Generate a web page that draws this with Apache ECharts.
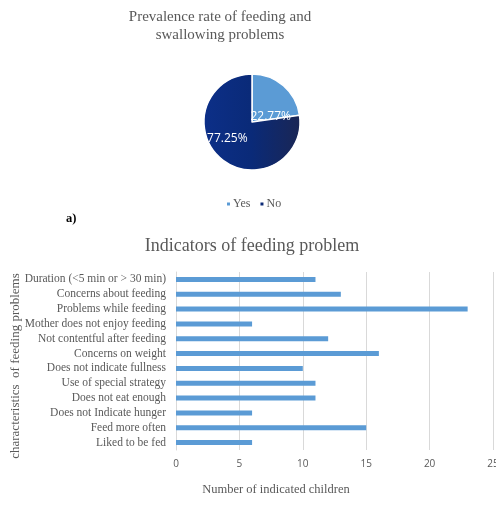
<!DOCTYPE html>
<html>
<head>
<meta charset="utf-8">
<script src="https://cdn.jsdelivr.net/npm/echarts@6/dist/echarts.min.js"></script>
<style>
  html, body { margin: 0; padding: 0; background: #fff; }
  #chart { width: 496px; height: 510px; }
</style>
</head>
<body>
<div id="chart"></div>
<script>
// Prevalence (pie)
const prevalenceNames = ['Yes', 'No'];
const prevalenceValues = [22.77, 77.25];

// Indicators of feeding problem (bar)
const indicatorCategories = [
  'Duration (<5 min or > 30 min)',
  'Concerns about feeding',
  'Problems while feeding',
  'Mother does not enjoy feeding',
  'Not contentful after feeding',
  'Concerns on weight',
  'Does not indicate fullness',
  'Use of special strategy',
  'Does not eat enough',
  'Does not Indicate hunger',
  'Feed more often',
  'Liked to be fed'
];
const indicatorCounts = [11, 13, 23, 6, 12, 16, 10, 11, 11, 6, 15, 6];
const countTicks = [0, 5, 10, 15, 20, 25];

const serif = '"Liberation Serif", "DejaVu Serif", serif';
const grey = '#595959';

const chart = echarts.init(document.getElementById('chart'), null, { renderer: 'canvas' });

chart.setOption({
  animation: false,
  backgroundColor: '#ffffff',
  legend: {
    data: prevalenceNames,
    left: 220, top: 193,
    itemWidth: 5, itemHeight: 5, itemGap: 8,
    icon: 'rect',
    textStyle: { fontFamily: serif, fontSize: 12, color: grey, padding: [0, 0, 0, -3] }
  },
  graphic: [
    {
      type: 'text', x: 220, y: 17,
      style: {
        text: 'Prevalence rate of feeding and',
        font: '15px ' + serif, fill: grey,
        textAlign: 'center', textVerticalAlign: 'middle'
      }
    },
    {
      type: 'text', x: 220, y: 35,
      style: {
        text: 'swallowing problems',
        font: '15px ' + serif, fill: grey,
        textAlign: 'center', textVerticalAlign: 'middle'
      }
    },
    {
      type: 'text', x: 252, y: 246,
      style: {
        text: 'Indicators of feeding problem',
        font: '18px ' + serif, fill: grey,
        textAlign: 'center', textVerticalAlign: 'middle'
      }
    },
    {
      type: 'text', x: 66, y: 219,
      style: { text: 'a)', font: 'bold 12.5px ' + serif, fill: '#000', textVerticalAlign: 'middle' }
    },
    {
      type: 'text', x: 16, y: 366, rotation: Math.PI / 2,
      style: {
        text: 'characteristics  of feeding problems',
        font: '13px ' + serif, fill: grey,
        textAlign: 'center', textVerticalAlign: 'middle'
      }
    },
    {
      type: 'text', x: 276, y: 490,
      style: {
        text: 'Number of indicated children',
        font: '12.5px ' + serif, fill: grey,
        textAlign: 'center', textVerticalAlign: 'middle'
      }
    }
  ],
  grid: { left: 176, right: 3, top: 272, bottom: 60, containLabel: false, outerBoundsMode: 'none' },
  xAxis: {
    type: 'value',
    min: countTicks[0], max: countTicks[countTicks.length - 1], interval: 5,
    axisLine: { show: false },
    axisTick: { show: false },
    splitLine: { lineStyle: { color: '#d9d9d9', width: 1 } },
    axisLabel: {
      fontFamily: '"Open Sans", sans-serif', fontSize: 10, color: grey, margin: 9,
      showMaxLabel: true,
      formatter: v => countTicks.includes(v) ? String(v) : ''
    }
  },
  yAxis: {
    type: 'category',
    data: indicatorCategories,
    inverse: true,
    axisLine: { show: true, lineStyle: { color: '#d9d9d9' } },
    axisTick: { show: false },
    axisLabel: { fontFamily: serif, fontSize: 11.5, color: grey, margin: 10, interval: 0 }
  },
  series: [
    {
      type: 'pie',
      name: 'Prevalence',
      center: [252, 122],
      radius: 48,
      startAngle: 90,
      clockwise: true,
      silent: true,
      data: prevalenceNames.map((n, i) => ({
        name: n,
        value: prevalenceValues[i],
        itemStyle: {
          color: i === 0 ? '#5b9bd5' : new echarts.graphic.LinearGradient(0, 0, 1, 0, [
            { offset: 0, color: '#0c2f88' },
            { offset: 0.5, color: '#0a2a78' },
            { offset: 1, color: '#1a2654' }
          ])
        }
      })),
      itemStyle: { borderColor: '#ffffff', borderWidth: 1.5 },
      label: {
        show: true,
        position: 'inside',
        color: '#ffffff',
        fontFamily: '"Open Sans", sans-serif',
        fontSize: 12,
        formatter: p => p.value.toFixed(2) + '%'
      },
      labelLayout: p => p.dataIndex === 0 ? { dx: 1, dy: 15 } : { dx: -7, dy: -4 },
      labelLine: { show: false }
    },
    {
      type: 'bar',
      name: 'Indicators',
      data: indicatorCounts,
      barWidth: 5,
      itemStyle: { color: '#5b9bd5' },
      silent: true
    }
  ]
});
</script>
</body>
</html>
